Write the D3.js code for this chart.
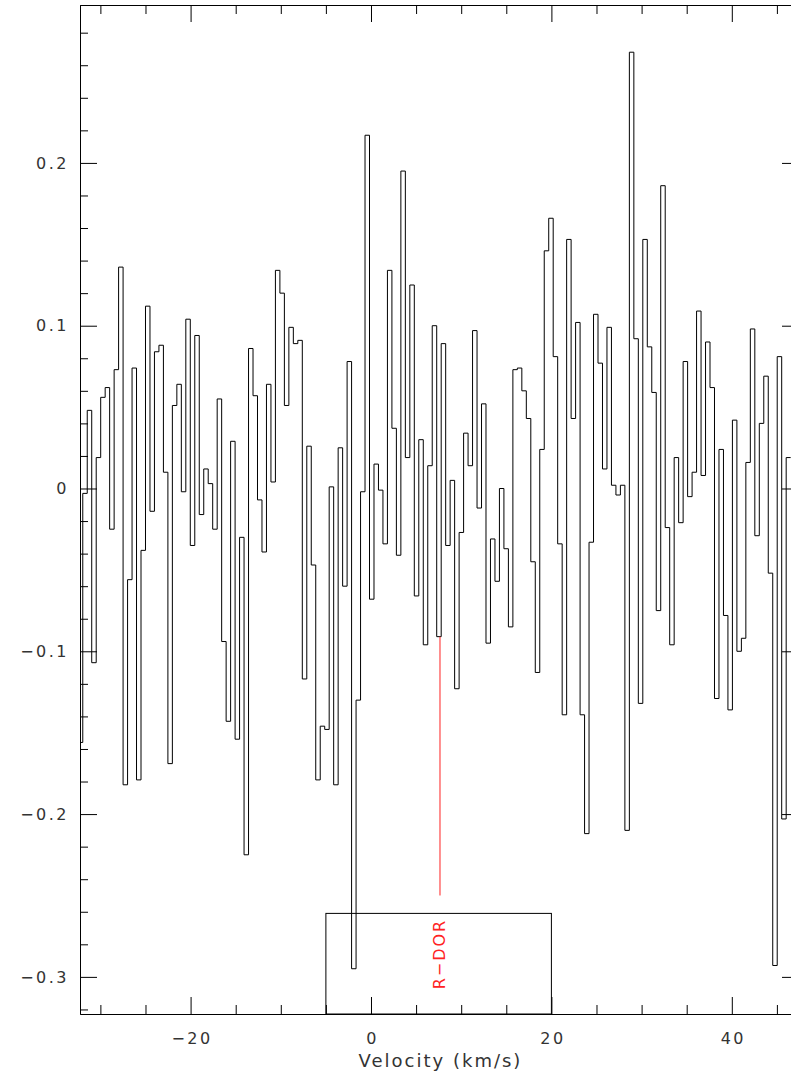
<!DOCTYPE html>
<html>
<head>
<meta charset="utf-8">
<script src="https://cdn.jsdelivr.net/npm/d3@7"></script>
<style>
  body { margin: 0; background: #fff; }
  svg { display: block; }
  text { font-family: "DejaVu Sans", sans-serif; fill: #333; }
</style>
</head>
<body>
<div id="vis"></div>
<script>
// channel grid of the spectrum (km/s)
const chanStart = -32.45;   // left edge of first channel
const chanWidth = 0.4967;

// spectrum values, one per channel
const fluxValues = [
  -0.156, -0.003, 0.048, -0.107, 0.019, 0.056, 0.062, -0.025, 0.073, 0.136,
  -0.182, -0.056, 0.074, -0.179, -0.038, 0.112, -0.014, 0.084, 0.088, 0.010,
  -0.169, 0.051, 0.064, -0.002, 0.104, -0.035, 0.094, -0.016, 0.012, 0.003,
  -0.025, 0.055, -0.094, -0.143, 0.029, -0.154, -0.030, -0.225, 0.086, 0.057,
  -0.007, -0.039, 0.064, 0.004, 0.134, 0.120, 0.051, 0.099, 0.089, 0.091,
  -0.117, 0.026, -0.047, -0.179, -0.146, -0.148, 0.001, -0.182, 0.025, -0.060,
  0.078, -0.295, -0.130, -0.002, 0.217, -0.068, 0.015, -0.001, -0.034, 0.134,
  0.037, -0.041, 0.195, 0.019, 0.125, -0.066, 0.030, -0.096, 0.014, 0.100,
  -0.091, 0.089, -0.035, 0.005, -0.123, -0.027, 0.034, 0.014, 0.097, -0.012,
  0.052, -0.095, -0.031, -0.057, 0.000, -0.037, -0.085, 0.073, 0.074, 0.060,
  0.043, -0.045, -0.113, 0.024, 0.146, 0.166, 0.081, -0.034, -0.139, 0.153,
  0.043, 0.102, -0.139, -0.212, -0.033, 0.107, 0.077, 0.012, 0.099, 0.002,
  -0.004, 0.002, -0.210, 0.268, 0.092, -0.132, 0.153, 0.087, 0.059, -0.075,
  0.186, -0.024, -0.096, 0.019, -0.021, 0.078, -0.005, 0.010, 0.109, 0.008,
  0.090, 0.062, -0.129, 0.024, -0.078, -0.136, 0.042, -0.100, -0.092, 0.016,
  0.098, -0.029, 0.040, 0.069, -0.052, -0.293, 0.081, -0.203, 0.019
];

// axis ticks
const xMajorTicks = [-20, 0, 20, 40];
const xMinorTicks = [-30, -25, -15, -10, -5, 5, 10, 15, 25, 30, 35, 45];
const yMajorTicks = [-0.3, -0.2, -0.1, 0, 0.1, 0.2];
const yMinorTicks = [-0.32, -0.28, -0.26, -0.24, -0.22, -0.18, -0.16, -0.14, -0.12,
  -0.08, -0.06, -0.04, -0.02, 0.02, 0.04, 0.06, 0.08, 0.12, 0.14, 0.16, 0.18,
  0.22, 0.24, 0.26, 0.28];

// line marker and window box
const markerName = "R\u2212DOR";
const markerVel = 7.65;
const markerBottom = -0.25;
const boxRange = [-5, 20];
const boxTop = -0.261;

const xDomain = [-32.26, 47.45];
const yDomain = [-0.3228, 0.2970];

const width = 791;
const height = 1076;
const plot = { left: 80, right: 799, top: 5, bottom: 1014 };

const svg = d3.select("#vis").append("svg")
    .attr("width", width)
    .attr("height", height);

svg.append("rect").attr("width", width).attr("height", height).attr("fill", "#fff");

const xscale = d3.scaleLinear().domain(xDomain).range([plot.left, plot.right]);
const yscale = d3.scaleLinear().domain(yDomain).range([plot.bottom, plot.top]);

const fmt = d => d === 0 ? "0" : d3.format("")(d).replace("-", "\u2212");

function drawAxis(axisFn, scale, ticks, size, labels, transform) {
    const axis = axisFn(scale)
        .tickValues(ticks)
        .tickSizeInner(-size)
        .tickSizeOuter(0);
    if (labels) axis.tickFormat(fmt); else axis.tickFormat("");
    const g = svg.append("g").attr("transform", transform).call(axis);
    g.selectAll("path, line").attr("stroke", "#000").attr("stroke-width", 1);
    g.selectAll("text")
        .style("font-size", "16px")
        .style("letter-spacing", "2.5px")
        .attr("fill", "#444");
    return g;
}

// bottom
drawAxis(d3.axisBottom, xscale, xMinorTicks, 9, false, `translate(0,${plot.bottom})`);
drawAxis(d3.axisBottom, xscale, xMajorTicks, 17, true, `translate(0,${plot.bottom})`)
    .call(a => a.select(".domain").remove())
    .call(a => a.selectAll(".tick text").attr("y", 19).attr("x", 1));
// top
drawAxis(d3.axisTop, xscale, xMinorTicks, 9, false, `translate(0,${plot.top})`);
drawAxis(d3.axisTop, xscale, xMajorTicks, 17, false, `translate(0,${plot.top})`);
// left
drawAxis(d3.axisLeft, yscale, yMinorTicks, 8, false, `translate(${plot.left},0)`);
drawAxis(d3.axisLeft, yscale, yMajorTicks, 17, true, `translate(${plot.left},0)`)
    .call(a => a.selectAll(".tick text").attr("x", -11));
// right
drawAxis(d3.axisRight, yscale, yMinorTicks, 8, false, `translate(${plot.right},0)`);
drawAxis(d3.axisRight, yscale, yMajorTicks, 17, false, `translate(${plot.right},0)`);

svg.append("text")
    .attr("x", (plot.left + plot.right) / 2 + 1)
    .attr("y", 1067)
    .attr("text-anchor", "middle")
    .style("font-size", "18px")
    .style("letter-spacing", "2px")
    .attr("fill", "#444")
    .text("Velocity (km/s)");

// clip to the frame
svg.append("clipPath").attr("id", "plotclip")
    .append("rect")
    .attr("x", plot.left).attr("y", plot.top)
    .attr("width", plot.right - plot.left).attr("height", plot.bottom - plot.top);

// step spectrum: left channel edges + closing edge
const steps = fluxValues.map((v, i) => ({ vel: chanStart + i * chanWidth, flux: v }));
steps.push({ vel: chanStart + fluxValues.length * chanWidth, flux: fluxValues[fluxValues.length - 1] });

const line = d3.line()
    .x(d => xscale(d.vel))
    .y(d => yscale(d.flux))
    .curve(d3.curveStepAfter);

svg.append("path")
    .datum(steps)
    .attr("clip-path", "url(#plotclip)")
    .attr("fill", "none")
    .attr("stroke", "#000")
    .attr("stroke-width", 1)
    .attr("d", line);

// window box
svg.append("rect")
    .attr("x", xscale(boxRange[0]))
    .attr("y", yscale(boxTop))
    .attr("width", xscale(boxRange[1]) - xscale(boxRange[0]))
    .attr("height", plot.bottom - yscale(boxTop))
    .attr("fill", "none")
    .attr("stroke", "#000")
    .attr("stroke-width", 1);

// line marker, starting at the spectrum value of its channel
const markerChan = Math.floor((markerVel - chanStart) / chanWidth);
svg.append("line")
    .attr("x1", xscale(markerVel)).attr("x2", xscale(markerVel))
    .attr("y1", yscale(fluxValues[markerChan]))
    .attr("y2", yscale(markerBottom))
    .attr("stroke", "#f22")
    .attr("stroke-width", 1);

svg.append("text")
    .attr("transform", `translate(${xscale(markerVel)},${yscale(-0.286)}) rotate(-90)`)
    .attr("text-anchor", "middle")
    .attr("dominant-baseline", "central")
    .style("font-size", "16px")
    .style("letter-spacing", "2px")
    .style("fill", "#f22")
    .text(markerName);
</script>
</body>
</html>
